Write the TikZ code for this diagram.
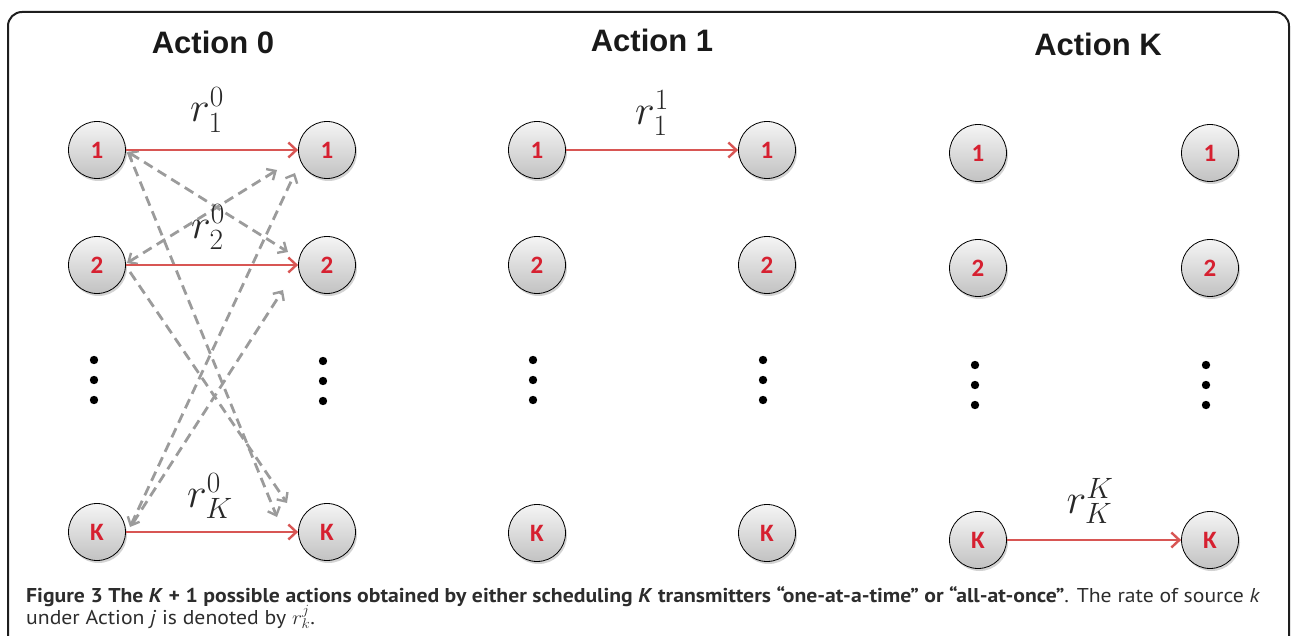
\RequirePackage{fix-cm}
\documentclass[tikz,border=0pt]{standalone}
\usepackage{graphicx}
\usepackage{fontspec}
\setmainfont{Liberation Sans}
\newfontfamily\headfont{Liberation Sans}
\newfontfamily\numfont{Carlito}
\newfontfamily\capfont{PT Sans}
\usetikzlibrary{arrows.meta,shadows,calc}

\definecolor{numred}{RGB}{214,32,48}
\definecolor{linkred}{RGB}{216,86,84}
\definecolor{dashgray}{RGB}{155,155,155}
\definecolor{framecol}{RGB}{30,30,30}
\definecolor{labelcol}{RGB}{40,40,40}
\definecolor{capcol}{RGB}{45,45,45}

% caption lines, measured so the first line can be stretched to the column width
\newsavebox\capA
\newsavebox\capB
\sbox\capA{\capfont\fontsize{20}{22}\selectfont\color{capcol}\textbf{Figure 3 The \textit{K} + 1 possible actions obtained by either scheduling \textit{K} transmitters “one-at-a-time” or “all-at-once”}. The rate of source \textit{k}}
\sbox\capB{\capfont\fontsize{20}{22}\selectfont\color{capcol}under Action \textit{j} is denoted by $r_k^j$.}

\tikzset{
  station/.style={circle, draw=black, line width=0.8pt, minimum size=57pt, inner sep=0pt,
    top color=black!4, bottom color=black!24,
    drop shadow={opacity=0.35, shadow xshift=1.5pt, shadow yshift=-2.5pt},
    font=\numfont\bfseries\fontsize{25}{25}\selectfont, text=numred},
  heading/.style={font=\headfont\bfseries\fontsize{31}{31}\selectfont, text=black!90},
  rate/.style={draw=linkred, line width=2.8pt, -{Straight Barb[length=8pt,width=15pt,line width=2.4pt]}},
  interf/.style={draw=dashgray, line width=2.8pt, dash pattern=on 10pt off 6pt,
    -{Straight Barb[length=7pt,width=13pt,line width=2.4pt]}},
  interfboth/.style={interf, {Straight Barb[length=7pt,width=13pt,line width=2.4pt]}-{Straight Barb[length=7pt,width=13pt,line width=2.4pt]}},
  ratelabel/.style={font=\fontsize{42}{42}\selectfont, text=labelcol, inner sep=0pt},
  vdot/.style={fill=black},
}

\begin{document}
\begin{tikzpicture}[x=1pt,y=-1pt]
\useasboundingbox (0,0) rectangle (1293,636);

% outer frame, open at the bottom
\draw[framecol, line width=2pt, rounded corners=14pt] (8,660) -- (8,12) -- (1289,12) -- (1289,660);

% headings
\node[heading] (h0) at (213,42) {Action 0};
\node[heading] (h1) at (652,40) {Action 1};
\node[heading] (hK) at (1098,44) {Action K};

% ---- Action 0 ----
\node[station] (a0l1) at (97,150) {1};
\node[station] (a0r1) at (327,150) {1};
\node[station] (a0l2) at (97,265) {2};
\node[station] (a0r2) at (327,265) {2};
\node[station] (a0lK) at (97,532) {K};
\node[station] (a0rK) at (327,532) {K};

% cross-link interference paths
\draw[interfboth] ($(a0l1)+(31,2)$) -- ($(a0r2)+(-39,-13)$);
\draw[interf] ($(a0l1)+(31,2)$) -- ($(a0rK)+(-50,-15)$);
\draw[interfboth] ($(a0l2)+(30,-2)$) -- ($(a0r1)+(-50,20)$);
\draw[interf] ($(a0l2)+(33,7)$) -- ($(a0rK)+(-40,-29)$);
\draw[interfboth] ($(a0lK)+(33,-5)$) -- ($(a0r1)+(-32,23)$);
\draw[interf] ($(a0lK)+(36,-9)$) -- ($(a0r2)+(-44,25)$);

\draw[rate] (a0l1) -- (a0r1);
\draw[rate] (a0l2) -- (a0r2);
\draw[rate] (a0lK) -- (a0rK);

\node[ratelabel] (r01) at (207,110) {$r_1^0$};
\node[ratelabel] (r02) at (208,227) {$r_2^0$};
\node[ratelabel] (r0K) at (210,496) {$r_K^0$};

\foreach \y in {360,380,400} { \fill[vdot] (94,\y) circle (4.2pt); \fill[vdot] (323,\y+1) circle (4.2pt); }

% ---- Action 1 ----
\node[station] (a1l1) at (537,150) {1};
\node[station] (a1r1) at (767,150) {1};
\node[station] (a1l2) at (537,265) {2};
\node[station] (a1r2) at (767,265) {2};
\node[station] (a1lK) at (537,533) {K};
\node[station] (a1rK) at (767,533) {K};

\draw[rate] (a1l1) -- (a1r1);
\node[ratelabel] (r11) at (652,113) {$r_1^1$};

\foreach \y in {360,380,400} { \fill[vdot] (533,\y) circle (4.2pt); \fill[vdot] (763,\y) circle (4.2pt); }

% ---- Action K ----
\node[station] (aKl1) at (978,153) {1};
\node[station] (aKr1) at (1210,153) {1};
\node[station] (aKl2) at (978,268) {2};
\node[station] (aKr2) at (1210,268) {2};
\node[station] (aKlK) at (978,540) {K};
\node[station] (aKrK) at (1210,540) {K};

\draw[rate] (aKlK) -- (aKrK);
\node[ratelabel] (rKK) at (1090,501) {$r_K^K$};

\foreach \y in {365,385,405} { \fill[vdot] (975,\y) circle (4.2pt); \fill[vdot] (1206,\y) circle (4.2pt); }

% ---- caption ----
\pgfmathsetmacro\capscale{1234/(\wd\capA)}
\node[anchor=base west, inner sep=0pt] (cap1) at (26,602) {\scalebox{\capscale}[1]{\usebox\capA}};
\node[anchor=base west, inner sep=0pt] (cap2) at (26,624) {\scalebox{\capscale}[1]{\usebox\capB}};
\end{tikzpicture}
\end{document}
